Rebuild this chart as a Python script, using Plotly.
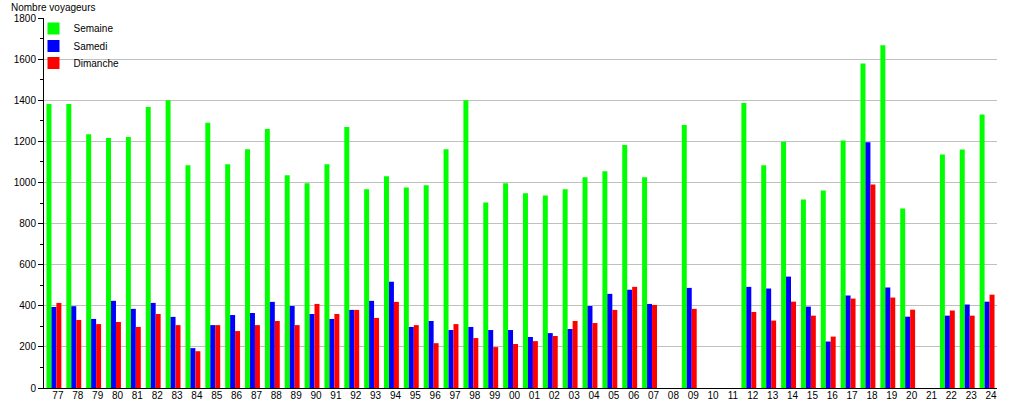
import plotly.graph_objects as go

years = ["77", "78", "79", "80", "81", "82", "83", "84", "85", "86", "87", "88",
         "89", "90", "91", "92", "93", "94", "95", "96", "97", "98", "99", "00",
         "01", "02", "03", "04", "05", "06", "07", "08", "09", "10", "11", "12",
         "13", "14", "15", "16", "17", "18", "19", "20", "21", "22", "23", "24"]

semaine = [1382, 1382, 1235, 1216, 1221, 1367, 1400, 1084, 1291, 1089, 1162, 1260,
           1035, 996, 1089, 1270, 967, 1030, 976, 986, 1162, 1400, 903, 996,
           947, 937, 967, 1025, 1055, 1182, 1025, None, 1279, None, None, 1387,
           1084, 1198, 917, 961, 1204, 1579, 1667, 873, None, 1136, 1160, 1331]

samedi = [394, 398, 336, 424, 385, 414, 346, 194, 306, 355, 365, 419,
          399, 360, 336, 380, 424, 517, 297, 326, 282, 297, 282, 282,
          248, 267, 287, 399, 458, 478, 409, None, 487, None, None, 492,
          484, 542, 396, 226, 450, 1195, 489, 347, None, 352, 406, 420]

dimanche = [414, 331, 311, 321, 297, 360, 306, 179, 306, 277, 306, 326,
            306, 409, 360, 380, 341, 419, 306, 218, 311, 243, 199, 214,
            228, 253, 326, 316, 380, 492, 404, None, 385, None, None, 370,
            328, 420, 352, 250, 435, 990, 440, 381, None, 377, 352, 454]

series = [("Semaine", semaine, "#00FF00"),
          ("Samedi", samedi, "#0000FF"),
          ("Dimanche", dimanche, "#FF0000")]

legend_ids = ["legend", "legend2", "legend3"]

fig = go.Figure()
for (name, vals, col), lg in zip(series, legend_ids):
    fig.add_trace(go.Bar(x=years, y=vals, name=name, marker_color=col,
                         marker_line_width=0, legend=lg))

font = dict(family="Liberation Sans, Arial, sans-serif", size=10, color="#000000")

PLOT_H = 370.0
PLOT_W = 953.0
legend_tops = [14, 31.5, 48.5]
legend_layout = {}
for lg, top in zip(legend_ids, legend_tops):
    legend_layout[lg] = dict(x=-10.5 / PLOT_W, y=1 - (top - 18) / PLOT_H,
                             xanchor="left", yanchor="top",
                             bgcolor="rgba(0,0,0,0)", font=font,
                             borderwidth=0)

fig.update_layout(
    width=1015, height=400,
    template="none",
    margin=dict(l=44, r=18, t=18, b=12, pad=0),
    paper_bgcolor="white", plot_bgcolor="white",
    barmode="group", bargap=0.25, bargroupgap=0,
    font=font,
    showlegend=True,
    xaxis=dict(type="category", showline=True, linecolor="#000000", linewidth=1,
               ticks="", showgrid=False, zeroline=False, automargin=False,
               tickfont=font, ticklabelshift=4, ticklabelstandoff=-2),
    yaxis=dict(range=[0, 1800], dtick=200, tick0=0, showline=True,
               linecolor="#000000", linewidth=1, ticks="outside", ticklen=5,
               tickcolor="#000000", showgrid=True, gridcolor="#C0C0C0",
               gridwidth=1, zeroline=False, automargin=False, tickfont=font,
               minor=dict(dtick=100, ticks="outside", ticklen=3,
                          tickcolor="#000000", showgrid=False)),
    annotations=[dict(text="Nombre voyageurs", xref="paper", yref="paper",
                      x=-35 / PLOT_W, y=1.0, yshift=11, xanchor="left",
                      yanchor="middle", showarrow=False, font=font)],
    **legend_layout,
)

fig.write_html("out.html", config={"displayModeBar": False},
               post_script="document.body.style.margin='0px';")
